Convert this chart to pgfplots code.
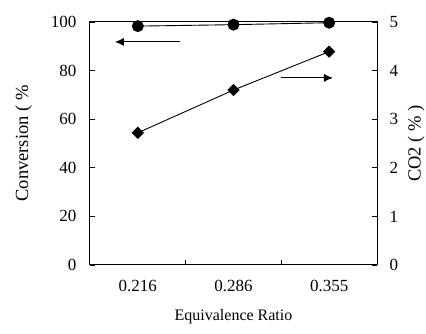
\documentclass[border=0pt]{standalone}
\usepackage{pgfplots}
\pgfplotsset{compat=1.18}
\usepackage{fontspec}
\setmainfont{Liberation Serif}
\usetikzlibrary{arrows.meta}
\begin{document}
\begin{tikzpicture}[x=1pt,y=1pt]
\begin{axis}[
  at={(90pt,69pt)}, anchor=south west,
  scale only axis, width=287pt, height=243pt,
  xmin=-0.5, xmax=2.5, ymin=0, ymax=100,
  xtick={0.5,1.5}, xticklabels={},
  extra x ticks={0,1,2}, extra x tick labels={0.216,0.286,0.355},
  extra x tick style={major tick length=0pt, xticklabel style={yshift=-12pt}},
  xtick pos=bottom, ytick pos=left,
  ytick={0,20,...,100},
  major tick length=5pt,
  tick style={black, line width=0.8pt},
  axis line style={line width=1pt},
  /pgf/number format/assume math mode=true,
  ticklabel style={font=\fontsize{17}{17}\selectfont},
  yticklabel style={xshift=-10pt},
  xlabel={Equivalence Ratio},
  xlabel style={font=\fontsize{16}{16}\selectfont, yshift=-10pt},
  ylabel={Conversion ( \%},
  ylabel style={font=\fontsize{18.5}{18.5}\selectfont, yshift=12pt},
  clip=false,
]
\addplot[black, line width=0.9pt, mark=*, mark size=5.5pt, mark options={fill=black}]
  coordinates {(0,98.3) (1,98.9) (2,99.7)};
\draw[line width=0.9pt, -{Latex[length=9pt,width=8pt]}] (axis cs:0.44,91.8) -- (axis cs:-0.24,91.8);
\draw[line width=0.9pt, -{Latex[length=9pt,width=8pt]}] (axis cs:1.5,77) -- (axis cs:2.04,77);
\end{axis}
\begin{axis}[
  at={(90pt,69pt)}, anchor=south west,
  scale only axis, width=287pt, height=243pt,
  xmin=-0.5, xmax=2.5, ymin=0, ymax=5,
  axis x line=none, axis y line*=right,
  ytick={0,1,...,5},
  major tick length=5pt,
  tick style={black, line width=0.8pt},
  axis line style={line width=1pt},
  /pgf/number format/assume math mode=true,
  ticklabel style={font=\fontsize{17}{17}\selectfont},
  yticklabel style={xshift=9pt},
  ylabel={CO2 ( \% )},
  ylabel style={font=\fontsize{18.5}{18.5}\selectfont, yshift=-3pt},
]
\addplot[black, line width=0.9pt, mark=square*, mark size=3.9pt, mark options={fill=black, rotate=45}]
  coordinates {(0,2.72) (1,3.6) (2,4.39)};
\end{axis}
\pgfresetboundingbox
\path (0,0) rectangle (426pt,334pt);
\end{tikzpicture}
\end{document}
